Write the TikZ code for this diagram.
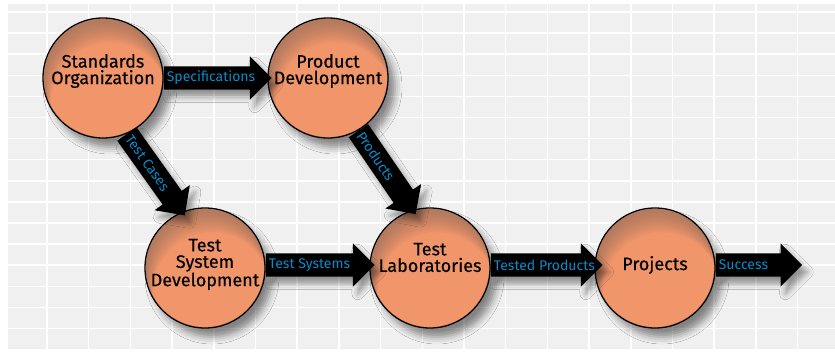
\documentclass[tikz,border=0pt]{standalone}
\usepackage{fontspec}
\setmainfont{Fira Sans}
\newfontfamily\nodefont[FakeBold=0.3]{Fira Sans}
\usetikzlibrary{shapes.arrows,shadows.blur,calc}
\definecolor{bg}{HTML}{F0F0F0}
\definecolor{orng}{HTML}{F1956A}
\definecolor{orngdark}{HTML}{8A6A5A}
\definecolor{lblue}{HTML}{0A8BC9}
\tikzset{
  proc/.style={circle, draw=black, line width=1.3pt, minimum size=120pt, inner sep=0pt,
    fill=orng,
    blur shadow={shadow xshift=7pt, shadow yshift=-9pt, shadow blur radius=7pt, shadow opacity=45}},
  ptext/.style={align=center, inner sep=0pt, font=\nodefont\fontsize{18}{16.5}\selectfont},
  fatarrow/.style={single arrow, fill=black, inner sep=0pt, text height=11.5pt, text depth=11.5pt,
    minimum width=43pt, single arrow head extend=10pt, single arrow head indent=0pt,
    blur shadow={shadow xshift=5pt, shadow yshift=-7pt, shadow blur radius=6pt, shadow opacity=40}},
  arrowlabel/.style={text=lblue, font=\fontsize{14}{14}\selectfont, inner xsep=3pt, inner ysep=0pt},
  gridline/.style={white, line width=1.5pt},
  innershade/.style={orngdark, opacity=0.09, even odd rule}
}
\newcommand\flowarrow[4]{%
  \path let \p1=(#2), \p2=(#3), \n1={atan2(\y2-\y1,\x2-\x1)}, \n2={veclen(\x2-\x1,\y2-\y1)} in
    (\p1) node[fatarrow, minimum height=\n2, rotate=\n1, anchor=tail] (#1) {}
    (\p1) node[arrowlabel, rotate=\n1, anchor=west] (#1-lbl) {#4};}
\begin{document}
\begin{tikzpicture}[x=1pt,y=-1pt]
\useasboundingbox (0,0) rectangle (835,352);
\fill[white] (0,0) rectangle (835,352);
\fill[bg] (8,4) rectangle (835,349);
\foreach \i in {0,...,18} \draw[gridline] ({47+41.7*\i},4) -- ({47+41.7*\i},349);
\foreach \j in {0,...,15} \draw[gridline] (8,{12+21.1*\j}) -- (835,{12+21.1*\j});

\node[proc] (std) at (103,78) {};
\node[proc] (pd) at (328,78) {};
\node[proc] (tsd) at (205,268) {};
\node[proc] (tl) at (430,268) {};
\node[proc] (pj) at (655,268) {};
\foreach \n in {std,pd,tsd,tl,pj}{
  \begin{scope}
    \clip (\n.center) circle (59.3);
    \foreach \k in {1,...,9}
      \fill[innershade] (\n.center) circle (59.3) ($(\n.center)+({0.8*\k},{2.6*\k})$) circle (59.3);
  \end{scope}
}
\node[ptext] (std-t) at ($(std.center)+(0,-7)$) {Standards\\Organization};
\node[ptext] (pd-t) at ($(pd.center)+(0,-7)$) {Product\\Development};
\node[ptext] (tsd-t) at ($(tsd.center)+(0,-3.5)$) {Test\\System\\Development};
\node[ptext] (tl-t) at ($(tl.center)+(0,-10.5)$) {Test\\Laboratories};
\node[ptext] (pj-t) at ($(pj.center)+(0,-3)$) {Projects};

\coordinate (a1) at (std.east);
\coordinate (b1) at ($(pd.west)+(4,0)$);
\coordinate (a2) at (std.-67);
\coordinate (b2) at ($(tsd.center)!0.93!(tsd.111)$);
\coordinate (a3) at (pd.-60);
\coordinate (b3) at ($(tl.center)!0.92!(tl.105)$);
\coordinate (a4) at ($(tsd.east)+(0,-3)$);
\coordinate (b4) at ($(tl.west)+(5,-3)$);
\coordinate (a5) at ($(tl.east)+(0,-3)$);
\coordinate (b5) at ($(pj.west)+(8,-3)$);
\coordinate (a6) at ($(pj.east)+(0,-3)$);
\coordinate (succ) at (802,265);

\flowarrow{spec}{a1}{b1}{Specifications}
\flowarrow{tcase}{a2}{b2}{Test Cases}
\flowarrow{prod}{a3}{b3}{Products}
\flowarrow{tsys}{a4}{b4}{Test Systems}
\flowarrow{tprod}{a5}{b5}{Tested Products}
\flowarrow{succa}{a6}{succ}{Success}
\end{tikzpicture}
\end{document}
